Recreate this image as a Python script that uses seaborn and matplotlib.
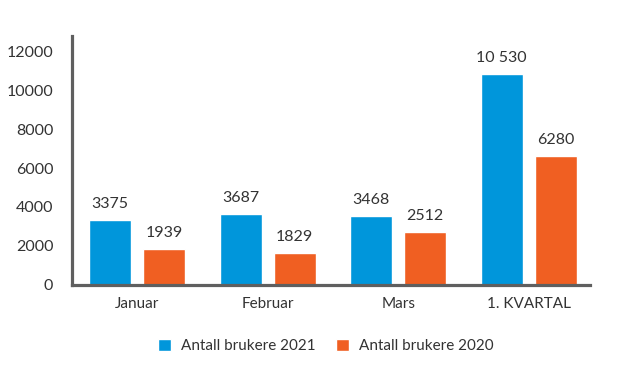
import pandas as pd
import matplotlib.pyplot as plt
import seaborn as sns

months = ['Januar', 'Februar', 'Mars', '1. KVARTAL']
series = ['Antall brukere 2021', 'Antall brukere 2020']
# bar heights as drawn in the picture
users_2021 = [3340, 3640, 3540, 10820]
users_2020 = [1850, 1640, 2720, 6620]
# value labels printed above the bars
labels_2021 = ['3375', '3687', '3468', '10 530']
labels_2020 = ['1939', '1829', '2512', '6280']
yticks = [0, 2000, 4000, 6000, 8000, 10000, 12000]

df = pd.DataFrame({
    'month': months * 2,
    'series': [series[0]] * 4 + [series[1]] * 4,
    'users': users_2021 + users_2020,
})

sns.set_style('white')
plt.rcParams['font.family'] = ['Lato', 'DejaVu Sans']
text_color = '#333333'

fig = plt.figure(figsize=(6.19, 3.81), dpi=100)
ax = fig.add_axes([0.1163, 0.252, 0.8367, 0.6535])

sns.barplot(data=df, x='month', y='users', hue='series', order=months,
            hue_order=series, palette=['#0096db', '#f05f22'],
            width=0.828, gap=0.22, saturation=1, ax=ax)

for container, texts in zip(ax.containers, [labels_2021, labels_2020]):
    for bar, txt in zip(container, texts):
        ax.annotate(txt, (bar.get_x() + bar.get_width() / 2, bar.get_height()),
                    xytext=(0, 6.5), textcoords='offset points',
                    ha='center', va='bottom', fontsize=11.5, color=text_color)

ax.set_ylim(0, 12770)
ax.set_xlim(-0.5, 3.47)
ax.set_yticks(yticks)
ax.set_yticklabels([str(v) for v in yticks])
ax.set_xlabel('')
ax.set_ylabel('')
ax.tick_params(axis='y', length=0, pad=13.5, labelsize=11.5, labelcolor=text_color)
ax.tick_params(axis='x', length=0, pad=9, labelsize=11, labelcolor=text_color)

for side in ['top', 'right']:
    ax.spines[side].set_visible(False)
for side in ['left', 'bottom']:
    ax.spines[side].set_color('#5f5f5f')
    ax.spines[side].set_linewidth(2.3)

handles, lbls = ax.get_legend_handles_labels()
ax.legend(handles, lbls, loc='center', bbox_to_anchor=(0.49, -0.245), ncol=2,
          frameon=False, fontsize=11, handlelength=0.85, handleheight=0.85,
          handletextpad=0.7, columnspacing=1.3, labelcolor=text_color)

fig.savefig('out.png', dpi=100)
